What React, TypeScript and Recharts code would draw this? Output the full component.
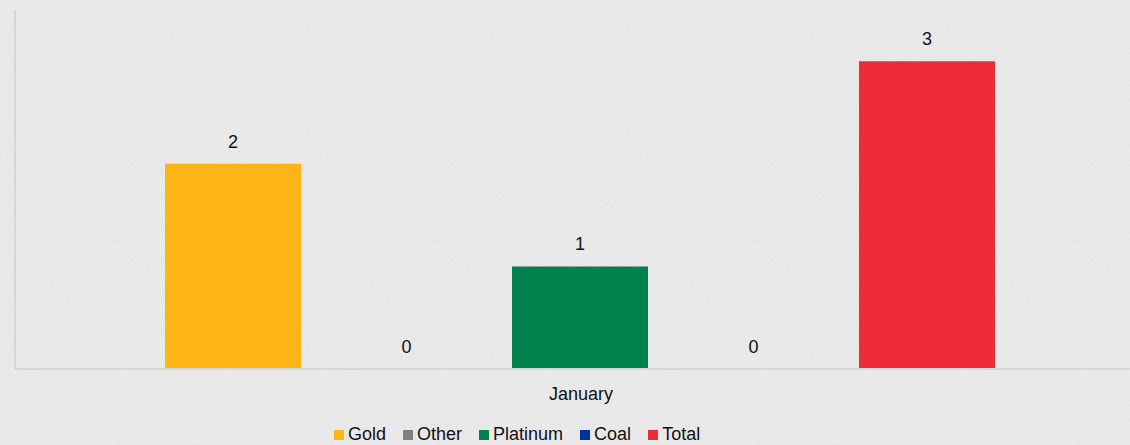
import React from 'react'
import { BarChart, Bar, XAxis, YAxis, LabelList } from 'recharts'

// chart values
const categories = ['January']
const goldValues = [2]
const otherValues = [0]
const platinumValues = [1]
const coalValues = [0]
const totalValues = [3]

const series = [
  { name: 'Gold', values: goldValues, color: '#fdb515' },
  { name: 'Other', values: otherValues, color: '#808080' },
  { name: 'Platinum', values: platinumValues, color: '#00824f' },
  { name: 'Coal', values: coalValues, color: '#0033a0' },
  { name: 'Total', values: totalValues, color: '#ef2b38' },
]

const FONT = 'Arial, "Liberation Sans", sans-serif'

const chartData = categories.map((month, i) => {
  const row: Record<string, string | number> = { month }
  series.forEach(s => { row[s.name] = s.values[i] })
  return row
})

export default function App() {
  return (
    <div style={{ position: 'absolute', left: 0, top: 0, width: 1130, height: 445, overflow: 'hidden', background: '#ececec', fontFamily: FONT }}>
      {/* paper texture */}
      <svg width={1130} height={445} style={{ position: 'absolute', left: 0, top: 0 }}>
        <filter id="paper">
          <feTurbulence type="fractalNoise" baseFrequency="0.8" numOctaves={3} seed={4} />
          <feColorMatrix type="matrix" values="0 0 0 0 0.5  0 0 0 0 0.5  0 0 0 0 0.5  0 0 0 0.35 0" />
        </filter>
        <rect width={1130} height={445} fill="#f2f2f2" />
        <rect width={1130} height={445} filter="url(#paper)" />
      </svg>

      <div style={{ position: 'absolute', left: 0, top: 0 }}>
        <BarChart
          width={1147}
          height={445}
          data={chartData}
          margin={{ top: 10, right: 0, left: 14, bottom: 46 }}
          barCategoryGap={150}
          barGap={37.5}
        >
          <XAxis
            dataKey="month"
            axisLine={{ stroke: '#d6d8d8', strokeWidth: 2 }}
            tickLine={false}
            tickSize={0}
            tickMargin={18}
            tick={{ fill: '#111', fontSize: 18, fontFamily: FONT }}
            height={30}
          />
          <YAxis
            domain={[0, 3.5]}
            width={1}
            tick={false}
            tickLine={false}
            axisLine={{ stroke: '#d6d8d8', strokeWidth: 2 }}
          />
          {series.map(s => (
            <Bar key={s.name} dataKey={s.name} fill={s.color} minPointSize={0.01} isAnimationActive={false}>
              <LabelList
                dataKey={s.name}
                position="top"
                offset={16}
                fill="#111"
                fontSize={18}
                fontFamily={FONT}
              />
            </Bar>
          ))}
        </BarChart>
      </div>

      {/* legend */}
      <div style={{ position: 'absolute', left: 334, top: 424, display: 'flex', alignItems: 'center', fontSize: 18, color: '#111', lineHeight: '20px' }}>
        {series.map(s => (
          <div key={s.name} style={{ display: 'flex', alignItems: 'center', marginRight: 17 }}>
            <span style={{ width: 10, height: 10, background: s.color, marginRight: 4, marginTop: 2 }} />
            <span>{s.name}</span>
          </div>
        ))}
      </div>
    </div>
  )
}
